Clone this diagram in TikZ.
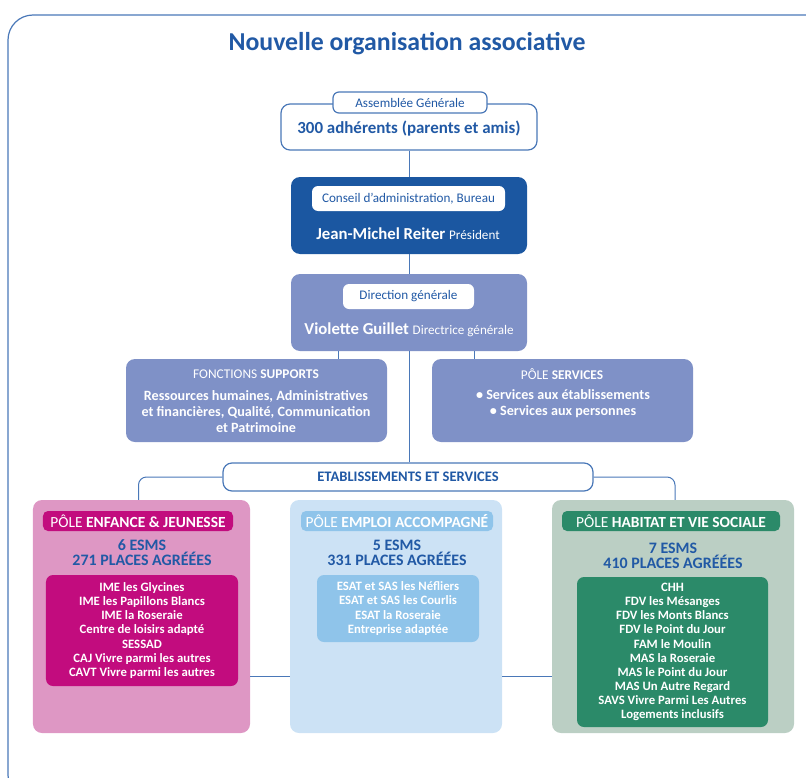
\documentclass[tikz,border=0pt]{standalone}
\usepackage{fontspec}
\setmainfont{Carlito}
\usepackage{tikz}
\usetikzlibrary{positioning, calc}
\definecolor{bleutexte}{HTML}{2159A5}
\definecolor{bleulien}{HTML}{4A78B8}
\definecolor{bleufonce}{HTML}{1B57A1}
\definecolor{pervenche}{HTML}{7F91C7}
\definecolor{rosefond}{HTML}{DE97C4}
\definecolor{magenta}{HTML}{C20C7E}
\definecolor{bleuclair}{HTML}{CCE2F5}
\definecolor{bleumoyen}{HTML}{8FC4EA}
\definecolor{vertfond}{HTML}{BBCFC4}
\definecolor{vertfonce}{HTML}{2B8A69}

\begin{document}
\begin{tikzpicture}[x=1bp, y=-1bp, node distance=4bp,
  lien/.style={draw=bleulien, line width=1bp},
  boite/.style={rounded corners=9bp, inner sep=0pt, minimum width=#1},
  onglet/.style={rounded corners=6bp, inner sep=0pt, fill=white, text=bleutexte, font=\fontsize{13.2}{15}\selectfont},
  pastille/.style={rounded corners=5bp, inner sep=0pt, text=white, minimum height=20bp, font=\fontsize{15.5}{17}\selectfont},
  chiffres/.style={align=center, text=bleutexte, font=\bfseries\fontsize{16}{15}\selectfont},
  liste/.style={rounded corners=7bp, align=center, text=white, inner sep=0pt, font=\bfseries\fontsize{12.8}{14.2}\selectfont}]
  \useasboundingbox (0,0) rectangle (806,778);
  \begin{scope}
    \clip (0,0) rectangle (806,778);
    \draw[draw=bleulien, line width=1.2bp, rounded corners=25bp] (8,15) rectangle (850,800);
  \end{scope}

  \node[text=bleutexte, font=\bfseries\fontsize{25.9}{30}\selectfont] (titre) at (407,44) {Nouvelle organisation associative};

  % haut de l'organigramme
  \node[boite=256bp, minimum height=46bp, fill=white, draw=bleulien, line width=1.2bp] (ag) at (409,127) {};
  \node[onglet, draw=bleulien, line width=1.2bp, minimum width=154bp, minimum height=21bp] (agtitre) at (410,102.5) {Assemblée Générale};
  \node[text=bleutexte, font=\bfseries\fontsize{17}{20}\selectfont] (agtexte) at (409,128.5) {300 adhérents (parents et amis)};

  \node[boite=236bp, minimum height=77bp, fill=bleufonce] (ca) at (409,215.5) {};
  \node[onglet, minimum width=193bp, minimum height=25bp] (catitre) at (408.5,198.5) {Conseil d'administration, Bureau};
  \node[text=white] (catexte) at (408,233.5) {\bfseries\fontsize{16.8}{18}\selectfont Jean-Michel Reiter \fontsize{13.2}{15}\mdseries\selectfont Président};

  \node[boite=236bp, minimum height=77bp, fill=pervenche] (dg) at (409,312.5) {};
  \node[onglet, minimum width=131bp, minimum height=25bp] (dgtitre) at (408.5,296.5) {Direction générale};
  \node[text=white] (dgtexte) at (409,330) {\bfseries\fontsize{16.8}{18}\selectfont Violette Guillet \fontsize{13.2}{15}\mdseries\selectfont Directrice générale};

  % supports et services
  \node[boite=261bp, minimum height=83bp, fill=pervenche] (fs) at (256.5,400.5) {};
  \node[text=white, font=\fontsize{13.4}{15}\selectfont] (fstitre) at (256,374) {FONCTIONS \textbf{SUPPORTS}};
  \node[text=white, align=center, font=\bfseries\fontsize{14.2}{16}\selectfont] (fstexte) at (256,412) {Ressources humaines, Administratives\\et financières, Qualité, Communication\\et Patrimoine};

  \node[boite=261bp, minimum height=83bp, fill=pervenche] (ps) at (562.5,400.5) {};
  \node[text=white, font=\fontsize{13.4}{15}\selectfont] (pstitre) at (562,374) {PÔLE \textbf{SERVICES}};
  \node[text=white, align=center, font=\bfseries\fontsize{14.2}{16}\selectfont] (pstexte) at (563,404) {\textbullet{} Services aux établissements\\\textbullet{} Services aux personnes};

  \node[boite=370bp, minimum height=28bp, fill=white, draw=bleulien, line width=1.2bp, text=bleutexte, font=\bfseries\fontsize{14.6}{16}\selectfont] (etab) at (408,477) {ETABLISSEMENTS ET SERVICES};

  % poles
  \node[boite=217bp, minimum height=233bp, fill=rosefond] (pej) at (141.5,616.5) {};
  \node[pastille, fill=magenta, minimum width=190bp] (pejtitre) at (138,521) {PÔLE \textbf{ENFANCE \& JEUNESSE}};
  \node[chiffres] (pejchiffres) at (142,552.5) {6 ESMS\\271 PLACES AGRÉÉES};
  \node[liste, fill=magenta, minimum width=192bp, minimum height=111bp] (pejliste) at (142,630.5) {IME les Glycines\\IME les Papillons Blancs\\IME la Roseraie\\Centre de loisirs adapté\\SESSAD\\CAJ Vivre parmi les autres\\CAVT Vivre parmi les autres};

  \node[boite=212bp, minimum height=233bp, fill=bleuclair] (pea) at (396,616.5) {};
  \node[pastille, fill=bleumoyen, minimum width=192bp] (peatitre) at (397,521) {PÔLE \textbf{EMPLOI ACCOMPAGNÉ}};
  \node[chiffres] (peachiffres) at (397,552.5) {5 ESMS\\331 PLACES AGRÉÉES};
  \node[liste, fill=bleumoyen, minimum width=162bp, minimum height=67bp] (pealiste) at (398,608.5) {ESAT et SAS les Néfliers\\ESAT et SAS les Courlis\\ESAT la Roseraie\\Entreprise adaptée};

  \node[boite=242bp, minimum height=233bp, fill=vertfond] (phv) at (673,616.5) {};
  \node[pastille, fill=vertfonce, minimum width=218bp] (phvtitre) at (671,521) {PÔLE \textbf{HABITAT ET VIE SOCIALE}};
  \node[chiffres] (phvchiffres) at (673,555.5) {7 ESMS\\410 PLACES AGRÉÉES};
  \node[liste, fill=vertfonce, minimum width=191bp, minimum height=150bp] (phvliste) at (672.5,652) {CHH\\FDV les Mésanges\\FDV les Monts Blancs\\FDV le Point du Jour\\FAM le Moulin\\MAS la Roseraie\\MAS le Point du Jour\\MAS Un Autre Regard\\SAVS Vivre Parmi Les Autres\\Logements inclusifs};

  % liaisons
  \draw[lien] (ag) -- (ca);
  \draw[lien] (ca) -- (dg);
  \draw[lien] (dg.south) -- (dg.south |- etab.north);
  \draw[lien] ([xshift=-71bp]dg.south) -- ([xshift=-71bp]dg.south |- fs.north);
  \draw[lien] ([xshift=65bp]dg.south) -- ([xshift=65bp]dg.south |- ps.north);
  \draw[lien, rounded corners=8bp] (etab.west) -| ([xshift=-3bp]pej.north);
  \draw[lien, rounded corners=8bp] (etab.east) -| ([xshift=2bp]phv.north);
  \draw[lien] ([yshift=-59.5bp]pej.east) -- ([yshift=-59.5bp]pea.west);
  \draw[lien] ([yshift=-59.5bp]pea.east) -- ([yshift=-59.5bp]phv.west);
\end{tikzpicture}
\end{document}
